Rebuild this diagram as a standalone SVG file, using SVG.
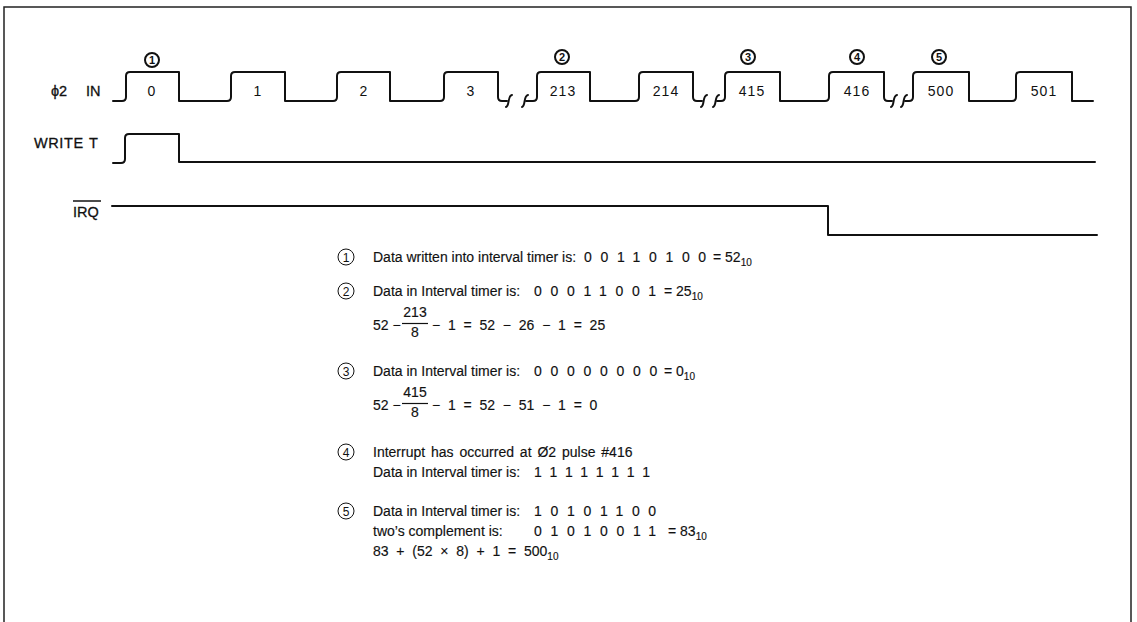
<svg xmlns="http://www.w3.org/2000/svg" width="1137" height="622" viewBox="0 0 1137 622">
<style>
.w{fill:none;stroke:#111;stroke-width:2;stroke-linejoin:round;stroke-linecap:round}
.lbl{font-family:"Liberation Sans",Arial,sans-serif;font-size:14.5px;fill:#111;stroke:#111;stroke-width:0.3}
.pn{font-family:"Liberation Sans",Arial,sans-serif;font-size:14px;fill:#111;text-anchor:middle;letter-spacing:1px}
.cb{fill:none;stroke:#111;stroke-width:2}
.cbt{font-family:"Liberation Sans",Arial,sans-serif;font-size:11px;font-weight:bold;fill:#111;text-anchor:middle}
.ct{fill:none;stroke:#111;stroke-width:1}
.ctt{font-family:"Liberation Sans",Arial,sans-serif;font-size:12px;fill:#111;text-anchor:middle}
.t{font-family:"Liberation Sans",Arial,sans-serif;font-size:14px;fill:#111;stroke:#111;stroke-width:0.15}
.bits{letter-spacing:8.7px}
.sub{font-size:10px}
</style>
<rect width="1137" height="622" fill="#fff"/>
<path d="M4,622 V7 H1131 V622" fill="none" stroke="#222" stroke-width="1.5"/>

<g id="labels">
<text class="lbl" x="51" y="96">ϕ2</text>
<text class="lbl" x="86" y="96">IN</text>
<text class="lbl" x="34" y="148" letter-spacing="0.6">WRITE</text>
<text class="lbl" x="89" y="148">T</text>
<text class="lbl" x="73" y="217">IRQ</text>
<line x1="73" y1="201" x2="101" y2="201" stroke="#111" stroke-width="1.5"/>
</g>

<g id="connectors">
<path id="phi2" class="w" d="M113,101 H122 Q126,101 126,97 V76 Q126,72 130,72 H179 V101 H227 Q231,101 231,97 V76 Q231,72 235,72 H285 V101 H333 Q337,101 337,97 V76 Q337,72 341,72 H390 V101 H440 Q444,101 444,97 V76 Q444,72 448,72 H498 V97 Q498,101 502,101 H507"/>
<path class="w" d="M506,107 C510,106 507,96 512,95"/>
<path class="w" d="M522,107 C526,106 523,96 528,95"/>
<path class="w" d="M526,101 H533 Q537,101 537,97 V76 Q537,72 541,72 H590 V101 H635 Q639,101 639,97 V76 Q639,72 643,72 H693 V97 Q693,101 697,101 H702"/>
<path class="w" d="M701,107 C705,106 702,96 707,95"/>
<path class="w" d="M713,107 C717,106 714,96 719,95"/>
<path class="w" d="M717,101 H721 Q725,101 725,97 V76 Q725,72 729,72 H780 V101 H825 Q829,101 829,97 V76 Q829,72 833,72 H884 V97 Q884,101 888,101 H892"/>
<path class="w" d="M891,107 C895,106 892,96 897,95"/>
<path class="w" d="M901,107 C905,106 902,96 907,95"/>
<path class="w" d="M905,101 H909 Q913,101 913,97 V76 Q913,72 917,72 H969 V101 H1012 Q1016,101 1016,97 V76 Q1016,72 1020,72 H1072 V101 H1093"/>
<path id="writet" class="w" d="M113,163 H121 Q125,163 125,159 V138 Q125,134 129,134 H179 V162 H1095"/>
<path id="irq" class="w" d="M112,206 H828 V235 H1097"/>
</g>

<g id="pulse-numbers">
<text class="pn" x="152" y="96">0</text>
<text class="pn" x="258" y="96">1</text>
<text class="pn" x="364" y="96">2</text>
<text class="pn" x="471" y="96">3</text>
<text class="pn" x="563" y="96">213</text>
<text class="pn" x="666" y="96">214</text>
<text class="pn" x="752" y="96">415</text>
<text class="pn" x="857" y="96">416</text>
<text class="pn" x="941" y="96">500</text>
<text class="pn" x="1044" y="96">501</text>
</g>

<g id="markers-top">
<circle class="cb" cx="152" cy="60" r="7"/><text class="cbt" x="152" y="64">1</text>
<circle class="cb" cx="562" cy="57" r="7"/><text class="cbt" x="562" y="61">2</text>
<circle class="cb" cx="748" cy="57" r="7"/><text class="cbt" x="748" y="61">3</text>
<circle class="cb" cx="857" cy="57" r="7"/><text class="cbt" x="857" y="61">4</text>
<circle class="cb" cx="939" cy="57" r="7"/><text class="cbt" x="939" y="61">5</text>
</g>

<g id="notes">
<circle class="ct" cx="346" cy="257" r="8"/><text class="ctt" x="346" y="261.5">1</text>
<text class="t" x="373" y="262">Data written into interval timer is:</text>
<text class="t bits" x="584" y="262">00110100</text>
<text class="t" x="713" y="262">= 52<tspan class="sub" dy="4">10</tspan></text>

<circle class="ct" cx="346" cy="291" r="8"/><text class="ctt" x="346" y="295.5">2</text>
<text class="t" x="373" y="296">Data in Interval timer is:</text>
<text class="t bits" x="534" y="296">00011001</text>
<text class="t" x="664" y="296">= 25<tspan class="sub" dy="4">10</tspan></text>
<text class="t" x="373" y="330">52 −</text>
<text class="t" x="415" y="317" text-anchor="middle">213</text>
<line x1="402" y1="323.5" x2="428" y2="323.5" stroke="#111" stroke-width="1.2"/>
<text class="t" x="415" y="337" text-anchor="middle">8</text>
<text class="t" x="432" y="330" xml:space="preserve">−  1  =  52  −  26  −  1  =  25</text>

<circle class="ct" cx="346" cy="371" r="8"/><text class="ctt" x="346" y="375.5">3</text>
<text class="t" x="373" y="376">Data in Interval timer is:</text>
<text class="t bits" x="534" y="376">00000000</text>
<text class="t" x="664" y="376">= 0<tspan class="sub" dy="4">10</tspan></text>
<text class="t" x="373" y="410">52 −</text>
<text class="t" x="415" y="397" text-anchor="middle">415</text>
<line x1="402" y1="403.5" x2="428" y2="403.5" stroke="#111" stroke-width="1.2"/>
<text class="t" x="415" y="417" text-anchor="middle">8</text>
<text class="t" x="432" y="410" xml:space="preserve">−  1  =  52  −  51  −  1  =  0</text>

<circle class="ct" cx="346" cy="452" r="8"/><text class="ctt" x="346" y="456.5">4</text>
<text class="t" x="373" y="457" word-spacing="2">Interrupt has occurred at Ø2 pulse #416</text>
<text class="t" x="373" y="477">Data in Interval timer is:</text>
<text class="t bits" x="534" y="477">11111111</text>

<circle class="ct" cx="346" cy="511" r="8"/><text class="ctt" x="346" y="515.5">5</text>
<text class="t" x="373" y="516">Data in Interval timer is:</text>
<text class="t bits" x="534" y="516">10101100</text>
<text class="t" x="373" y="536">two’s complement is:</text>
<text class="t bits" x="534" y="536">01010011</text>
<text class="t" x="668" y="536">= 83<tspan class="sub" dy="4">10</tspan></text>
<text class="t" x="373" y="556" xml:space="preserve">83  +  (52  ×  8)  +  1  =  500<tspan class="sub" dy="4">10</tspan></text>
</g>
</svg>
